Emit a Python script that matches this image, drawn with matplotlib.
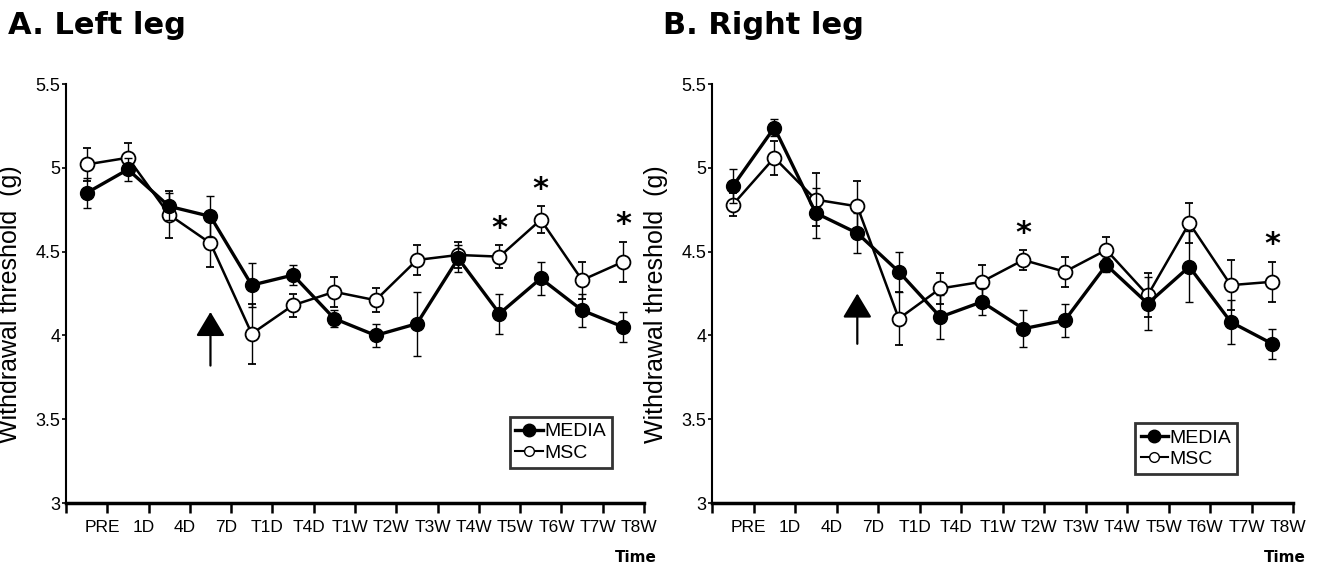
import matplotlib
matplotlib.use("Agg")
import matplotlib.pyplot as plt
from matplotlib.lines import Line2D

# time points
labels = ["PRE", "1D", "4D", "7D", "T1D", "T4D", "T1W", "T2W", "T3W",
          "T4W", "T5W", "T6W", "T7W", "T8W"]

# A. left leg
left_media = [4.85, 4.99, 4.77, 4.71, 4.30, 4.36, 4.10, 4.00, 4.07,
              4.46, 4.13, 4.34, 4.15, 4.05]
left_media_err = [0.09, 0.07, 0.08, 0.12, 0.13, 0.06, 0.05, 0.07, 0.19,
                  0.08, 0.12, 0.10, 0.10, 0.09]
left_msc = [5.02, 5.06, 4.72, 4.55, 4.01, 4.18, 4.26, 4.21, 4.45,
            4.48, 4.47, 4.69, 4.33, 4.44]
left_msc_err = [0.10, 0.09, 0.14, 0.14, 0.18, 0.07, 0.09, 0.07, 0.09,
                0.08, 0.07, 0.08, 0.11, 0.12]
left_stars = ["T5W", "T6W", "T8W"]

# B. right leg
right_media = [4.89, 5.24, 4.73, 4.61, 4.38, 4.11, 4.20, 4.04, 4.09,
               4.42, 4.19, 4.41, 4.08, 3.95]
right_media_err = [0.10, 0.05, 0.15, 0.12, 0.12, 0.13, 0.08, 0.11, 0.10,
                   0.04, 0.16, 0.21, 0.13, 0.09]
right_msc = [4.78, 5.06, 4.81, 4.77, 4.10, 4.28, 4.32, 4.45, 4.38,
             4.51, 4.24, 4.67, 4.30, 4.32]
right_msc_err = [0.07, 0.10, 0.16, 0.15, 0.16, 0.09, 0.10, 0.06, 0.09,
                 0.08, 0.13, 0.12, 0.15, 0.12]
right_stars = ["T2W", "T8W"]

yticks = [3, 3.5, 4, 4.5, 5, 5.5]

narrow = ["Liberation Sans Narrow", "Liberation Sans", "DejaVu Sans"]
sans = ["Liberation Sans", "DejaVu Sans"]


def draw_panel(ax, media, media_err, msc, msc_err, stars, arrow, legend_anchor):
    x = [i + 0.5 for i in range(len(labels))]
    ax.errorbar(x, msc, yerr=msc_err, color="black", lw=1.8, marker="o",
                ms=10, mfc="white", mec="black", mew=1.3,
                ecolor="black", elinewidth=1, capsize=3, capthick=1, zorder=3)
    ax.errorbar(x, media, yerr=media_err, color="black", lw=2.4, marker="o",
                ms=10, mfc="black", mec="black",
                ecolor="black", elinewidth=1, capsize=3, capthick=1, zorder=4)

    for s in stars:
        i = labels.index(s)
        top = max(msc[i] + msc_err[i], media[i] + media_err[i])
        ax.text(x[i], top + 0.1, "*", ha="center", va="center",
                fontsize=22, fontweight="bold", family="DejaVu Sans")

    ax.annotate("", xy=(3.5, arrow[1]), xytext=(3.5, arrow[0]),
                arrowprops=dict(arrowstyle="-|>,head_length=0.75,head_width=0.45",
                                color="black", lw=1.6, mutation_scale=20,
                                shrinkA=0, shrinkB=0))

    ax.set_xlim(0, len(labels))
    ax.set_ylim(3, 5.5)
    ax.set_xticks(range(len(labels) + 1))
    ax.set_xticklabels([])
    ax.set_xticks([i + 0.88 for i in range(len(labels))], minor=True)
    ax.set_xticklabels(labels, minor=True, family=narrow, fontsize=12.5)
    ax.tick_params(axis="x", which="major", length=7, width=1.8, direction="out")
    ax.tick_params(axis="x", which="minor", length=0, pad=12)
    ax.set_yticks(yticks)
    ax.set_yticklabels([f"{v:g}" for v in yticks], family=narrow, fontsize=13)
    ax.tick_params(axis="y", length=3, width=1.2, pad=1)

    for side in ["top", "right"]:
        ax.spines[side].set_visible(False)
    ax.spines["left"].set_linewidth(1.5)
    ax.spines["bottom"].set_linewidth(2.5)

    ax.set_ylabel("Withdrawal threshold  (g)", family=sans, fontsize=18)
    ax.yaxis.set_label_coords(-0.076, 0.475)
    ax.text(0.985, -0.13, "Time", transform=ax.transAxes, ha="center",
            va="center", fontsize=11, fontweight="bold", family="DejaVu Sans")

    handles = [
        Line2D([], [], color="black", lw=2.4, marker="o", ms=9,
               mfc="black", mec="black"),
        Line2D([], [], color="black", lw=1.5, marker="o", ms=7,
               mfc="white", mec="black"),
    ]
    leg = ax.legend(handles, ["MEDIA", "MSC"], loc="lower right",
                    bbox_to_anchor=legend_anchor, frameon=True, fancybox=False,
                    edgecolor="black", handlelength=1.4, handletextpad=0.1,
                    borderpad=0.3, labelspacing=0.2, borderaxespad=0,
                    prop={"family": narrow, "size": 14})
    leg.get_frame().set_linewidth(2)


fig = plt.figure(figsize=(13.27, 5.68), dpi=100)
ax1 = fig.add_axes([0.0497, 0.1144, 0.4356, 0.7377])
ax2 = fig.add_axes([0.5366, 0.1144, 0.4378, 0.7377])

draw_panel(ax1, left_media, left_media_err, left_msc, left_msc_err,
           left_stars, (3.82, 4.14), (0.945, 0.084))
draw_panel(ax2, right_media, right_media_err, right_msc, right_msc_err,
           right_stars, (3.95, 4.25), (0.904, 0.069))

fig.text(8 / 1327, 1 - 26 / 568, "A. Left leg", ha="left", va="center",
         fontsize=22, fontweight="bold", family="DejaVu Sans")
fig.text(663 / 1327, 1 - 26 / 568, "B. Right leg", ha="left", va="center",
         fontsize=22, fontweight="bold", family="DejaVu Sans")

fig.savefig("out.png", dpi=100)
